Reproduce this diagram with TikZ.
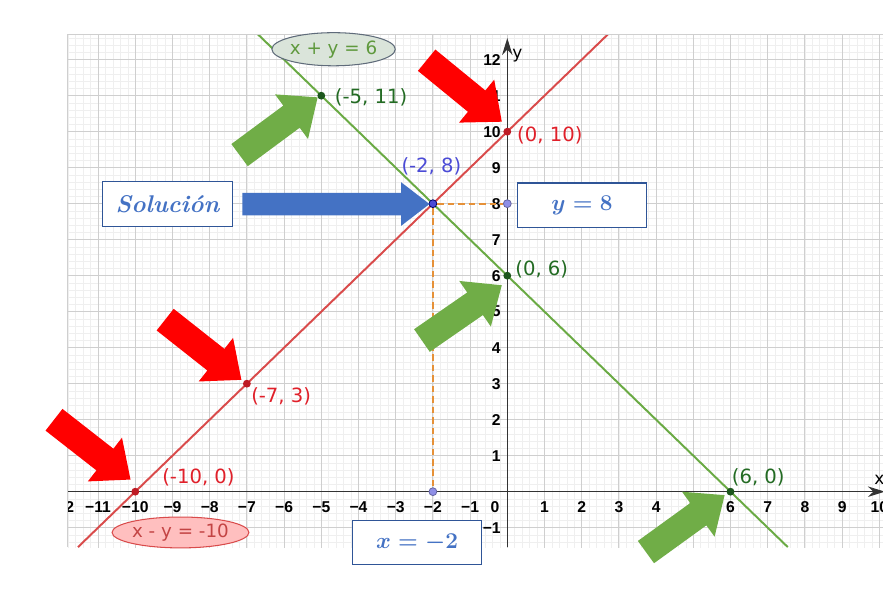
\documentclass[tikz,border=0pt]{standalone}
\usepackage{fontspec}
\usepackage{amsmath,amssymb}
\usepackage{xcolor}
\usepackage{tikz}
\usetikzlibrary{arrows.meta,positioning,calc,shapes.geometric,shapes.arrows}
\newfontfamily\dejavu{DejaVu Sans}
\newfontfamily\libsans{Liberation Sans}
\definecolor{linered}{HTML}{D94B4B}
\definecolor{linegreen}{HTML}{6AAA44}
\definecolor{labred}{HTML}{E0202A}
\definecolor{labgreen}{HTML}{236B23}
\definecolor{labblue}{HTML}{4B4BD6}
\definecolor{dotlilac}{HTML}{8F8FE6}
\definecolor{dashorange}{HTML}{E69138}
\definecolor{officeblue}{HTML}{4472C4}
\definecolor{boxblue}{HTML}{2F5597}
\definecolor{officegreen}{HTML}{70AD47}
\definecolor{gridmajor}{HTML}{CFCFCF}
\definecolor{gridminor}{HTML}{EFEFEF}
\definecolor{ovalborder}{HTML}{5F6B7A}

\begin{document}
\begin{tikzpicture}[x=1cm,y=0.9677cm,
  dot/.style={circle,inner sep=0pt,minimum size=6pt,line width=0.6pt},
  ptlab/.style={anchor=west,inner sep=0pt,font=\dejavu\fontsize{15}{18}\selectfont},
  ticklab/.style={inner sep=0pt,font=\libsans\bfseries\fontsize{12}{14}\selectfont},
  eqbox/.style={draw=boxblue,line width=0.8pt,fill=white,minimum width=3.49cm,
                minimum height=1.19cm,text=officeblue,
                font=\fontsize{18.5}{22}\selectfont\boldmath},
  eqoval/.style={ellipse,line width=0.8pt,inner sep=0pt,
                 font=\dejavu\fontsize{14}{17}\selectfont},
  fatarrow/.style={single arrow,anchor=tip,inner xsep=0pt,inner ysep=0.363cm,
                   minimum height=2.61cm,single arrow head extend=0.376cm,
                   single arrow tip angle=81}
]
  \useasboundingbox (-13.637,-2.731) rectangle (10.099,13.658);
  \fill[white] (-13.637,-2.731) rectangle (10.099,13.658);

  \begin{scope}
    \clip (-11.81,-1.54) rectangle (10.2,12.71);
    \draw[gridminor,line width=0.5pt,step=0.2] (-12,-2) grid (11,13);
    \draw[gridmajor,line width=0.8pt,step=1] (-12,-2) grid (11,13);

    \foreach \x in {-12,...,-1,1,2,...,10}
      \node[ticklab] (tx\x) at (\x,-0.43) {\ifnum\x<0 −\number\numexpr-\x\relax\else\x\fi};
    \node[ticklab] (tx0) at (-0.33,-0.43) {0};
    \foreach \y in {1,...,12}
      \node[ticklab,anchor=east] (ty\y) at (-0.17,\y) {\y};
    \node[ticklab,anchor=east] (tyminus) at (-0.17,-1) {−1};

    \draw[black!80,line width=1.1pt,-{Stealth[length=13pt,width=8pt]}] (-11.81,0) -- (10.15,0);
    \draw[black!80,line width=1.1pt,-{Stealth[length=13pt,width=8pt]}] (0,-1.54) -- (0,12.6);

    \coordinate (redlo) at (-11.54,-1.54);
    \coordinate (redhi) at (2.71,12.71);
    \coordinate (greenhi) at (-6.71,12.71);
    \coordinate (greenlo) at (7.54,-1.54);
    \draw[linered,line width=1.5pt] (redlo) -- (redhi);
    \draw[linegreen,line width=1.5pt] (greenhi) -- (greenlo);
  \end{scope}
  \draw[gridmajor,line width=0.8pt] (-11.81,-1.54) -- (-11.81,12.71) -- (10.2,12.71);

  \node[font=\dejavu\fontsize{13}{15}\selectfont] (ylab) at (0.27,12.12) {y};
  \node[font=\dejavu\fontsize{13}{15}\selectfont] (xlab) at (10.0,0.33) {x};

  \node[dot,fill=dotlilac,draw=dotlilac!70!black] (soly) at (0,8) {};
  \node[dot,fill=dotlilac,draw=dotlilac!70!black] (solx) at (-2,0) {};
  \node[dot,fill=labblue,draw=blue!40!black] (sol) at (-2,8) {};
  \draw[dashorange,line width=1.4pt,dash pattern=on 5pt off 3pt] (sol) -- (soly);
  \draw[dashorange,line width=1.4pt,dash pattern=on 5pt off 3pt] (sol) -- (solx);
  \node[dot,fill=labgreen!80!black] (pa) at (-5,11) {};
  \node[dot,fill=labgreen!80!black] (pb) at (0,6) {};
  \node[dot,fill=labgreen!80!black] (pc) at (6,0) {};
  \node[dot,fill=labred!85!black] (pd) at (0,10) {};
  \node[dot,fill=labred!85!black] (pe) at (-7,3) {};
  \node[dot,fill=labred!85!black] (pf) at (-10,0) {};

  \node[ptlab,text=labgreen] (laba) at (-4.64,10.96) {(-5, 11)};
  \node[ptlab,text=labgreen] (labb) at (0.21,6.18) {(0, 6)};
  \node[ptlab,text=labgreen] (labc) at (6.03,0.41) {(6, 0)};
  \node[ptlab,text=labred] (labd) at (0.26,9.91) {(0, 10)};
  \node[ptlab,text=labred] (labe) at (-6.89,2.66) {(-7, 3)};
  \node[ptlab,text=labred] (labf) at (-9.28,0.41) {(-10, 0)};
  \node[ptlab,anchor=center,text=labblue] (labsol) at (-2.04,9.05) {(-2, 8)};

  \node[eqoval,draw=ovalborder,fill=green!15!gray!25,text=linegreen!90!black,
        minimum width=2.98cm,minimum height=0.89cm] (eqsum) at (-4.67,12.29) {x + y = 6};
  \node[eqoval,draw=linered,fill=red!25,text=linered!90!black,
        minimum width=3.47cm,minimum height=0.83cm] (eqdiff) at (-8.785,-1.133) {x - y = -10};

  \node[eqbox] (solbox) at (-9.136,7.99) {\bfseries\itshape Solución};
  \node[eqbox] (ybox) at (2.008,7.96) {$y=8$};
  \node[eqbox] (xbox) at (-2.427,-1.41) {$x=-2$};

  \node[single arrow,fill=officeblue,anchor=tip,inner xsep=0pt,inner ysep=0.295cm,
        minimum height=5.03cm,single arrow head extend=0.285cm,
        single arrow tip angle=75] (bluearrow) at (-2.08,7.99) {};

  \node[fatarrow,fill=red,rotate=-39.3] (reda) at (-0.14,10.27) {};
  \node[fatarrow,fill=red,rotate=-38.3] (redb) at (-7.14,3.10) {};
  \node[fatarrow,fill=red,rotate=-38] (redc) at (-10.12,0.33) {};
  \node[fatarrow,fill=officegreen,rotate=36.5] (greena) at (-5.09,10.96) {};
  \node[fatarrow,fill=officegreen,rotate=34.7] (greenb) at (-0.14,5.74) {};
  \node[fatarrow,fill=officegreen,rotate=35.9] (greenc) at (5.85,-0.09) {};
\end{tikzpicture}
\end{document}
